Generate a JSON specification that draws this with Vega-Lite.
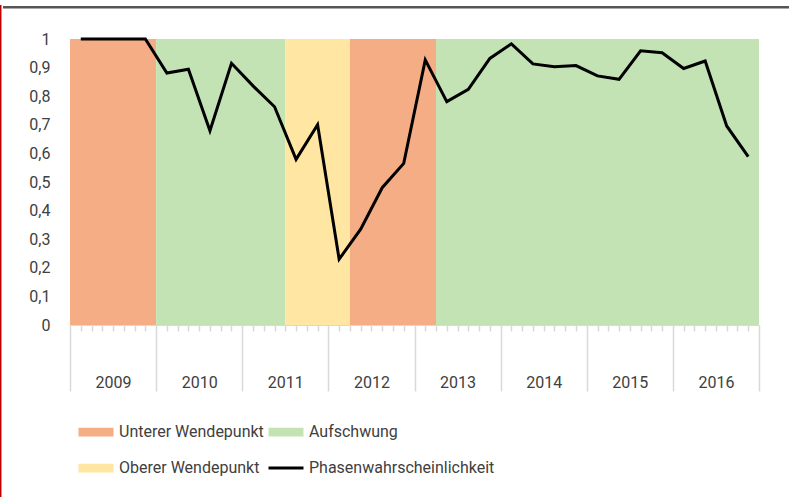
{
  "$schema": "https://vega.github.io/schema/vega-lite/v6.json",
  "width": 689,
  "height": 286,
  "autosize": "none",
  "padding": {"left": 70, "top": 39, "right": 32, "bottom": 172},
  "background": "white",
  "config": {
    "view": {"stroke": null},
    "font": "Roboto, sans-serif",
    "axis": {"labelOverlap": false}
  },
  "datasets": {
    "bands": [
      {"start": 2009, "end": 2010, "phase": "Unterer Wendepunkt"},
      {"start": 2010, "end": 2011.5, "phase": "Aufschwung"},
      {"start": 2011.5, "end": 2012.25, "phase": "Oberer Wendepunkt"},
      {"start": 2012.25, "end": 2013.25, "phase": "Unterer Wendepunkt"},
      {"start": 2013.25, "end": 2017, "phase": "Aufschwung"}
    ],
    "prob": [
      {"t": 2009.125, "p": 1.0},
      {"t": 2009.375, "p": 1.0},
      {"t": 2009.625, "p": 1.0},
      {"t": 2009.875, "p": 1.0},
      {"t": 2010.125, "p": 0.881},
      {"t": 2010.375, "p": 0.894},
      {"t": 2010.625, "p": 0.679},
      {"t": 2010.875, "p": 0.915},
      {"t": 2011.125, "p": 0.836},
      {"t": 2011.375, "p": 0.763},
      {"t": 2011.625, "p": 0.579},
      {"t": 2011.875, "p": 0.700},
      {"t": 2012.125, "p": 0.230},
      {"t": 2012.375, "p": 0.335},
      {"t": 2012.625, "p": 0.480},
      {"t": 2012.875, "p": 0.565},
      {"t": 2013.125, "p": 0.927},
      {"t": 2013.375, "p": 0.781},
      {"t": 2013.625, "p": 0.824},
      {"t": 2013.875, "p": 0.932},
      {"t": 2014.125, "p": 0.983},
      {"t": 2014.375, "p": 0.913},
      {"t": 2014.625, "p": 0.903},
      {"t": 2014.875, "p": 0.907},
      {"t": 2015.125, "p": 0.871},
      {"t": 2015.375, "p": 0.859},
      {"t": 2015.625, "p": 0.959},
      {"t": 2015.875, "p": 0.952},
      {"t": 2016.125, "p": 0.897},
      {"t": 2016.375, "p": 0.923},
      {"t": 2016.625, "p": 0.696},
      {"t": 2016.875, "p": 0.589}
    ]
  },
  "layer": [
    {
      "data": {"name": "bands"},
      "mark": {"type": "rect"},
      "encoding": {
        "x": {
          "field": "start",
          "type": "quantitative",
          "scale": {"domain": [2009, 2017], "nice": false, "zero": false},
          "axis": {
            "title": null,
            "grid": false,
            "domain": true,
            "domainColor": "#d9d9d9",
            "tickCount": 80,
            "values": [2009, 2009.125, 2009.25, 2009.375, 2009.5, 2009.625, 2009.75, 2009.875,
                       2010, 2010.125, 2010.25, 2010.375, 2010.5, 2010.625, 2010.75, 2010.875,
                       2011, 2011.125, 2011.25, 2011.375, 2011.5, 2011.625, 2011.75, 2011.875,
                       2012, 2012.125, 2012.25, 2012.375, 2012.5, 2012.625, 2012.75, 2012.875,
                       2013, 2013.125, 2013.25, 2013.375, 2013.5, 2013.625, 2013.75, 2013.875,
                       2014, 2014.125, 2014.25, 2014.375, 2014.5, 2014.625, 2014.75, 2014.875,
                       2015, 2015.125, 2015.25, 2015.375, 2015.5, 2015.625, 2015.75, 2015.875,
                       2016, 2016.125, 2016.25, 2016.375, 2016.5, 2016.625, 2016.75, 2016.875, 2017],
            "tickColor": "#d9d9d9",
            "tickWidth": 1.5,
            "tickSize": {"condition": {"test": "datum.value % 1 == 0", "value": 66}, "value": 6},
            "labelExpr": "datum.value % 1 == 0.5 ? toString(floor(datum.value)) : ''",
            "labelFontSize": 16,
            "labelColor": "#404040",
            "labelPadding": 43,
            "labelFlush": false,
            "labelOverlap": false,
            "labelBound": false
          }
        },
        "x2": {"field": "end"},
        "y": {
          "datum": 0,
          "type": "quantitative",
          "scale": {"domain": [0, 1], "nice": false},
          "axis": {
            "title": null,
            "grid": false,
            "domain": false,
            "ticks": false,
            "tickCount": 20,
            "values": [0, 0.1, 0.2, 0.3, 0.4, 0.5, 0.6, 0.7, 0.8, 0.9, 1],
            "labelExpr": "replace(format(datum.value, '.1~f'), '.', ',')",
            "labelFontSize": 16,
            "labelColor": "#404040",
            "labelPadding": 20,
            "labelOverlap": false,
            "labelFlush": false,
            "labelBound": false
          }
        },
        "y2": {"datum": 1},
        "color": {
          "field": "phase",
          "type": "nominal",
          "scale": {
            "domain": ["Unterer Wendepunkt", "Aufschwung", "Oberer Wendepunkt", "Phasenwahrscheinlichkeit"],
            "range": ["#f5ad85", "#c4e3b5", "#ffe6a2", "#000000"]
          },
          "legend": {
            "title": null,
            "orient": "none",
            "direction": "horizontal",
            "legendX": 18,
            "legendY": 385,
            "columns": 2,
            "columnPadding": -2,
            "rowPadding": 20,
            "symbolSize": 1225,
            "labelFontSize": 16,
            "labelColor": "#404040",
            "labelOffset": 15,
            "labelLimit": 300,
            "encode": {
              "symbols": {
                "update": {
                  "shape": {"signal": "datum.value === 'Phasenwahrscheinlichkeit' ? 'M-1,0H1' : 'M-1,-0.25H1V0.25H-1Z'"},
                  "fill": {"signal": "datum.value === 'Phasenwahrscheinlichkeit' ? 'transparent' : scale('color', datum.value)"},
                  "stroke": {"signal": "datum.value === 'Phasenwahrscheinlichkeit' ? '#000000' : 'transparent'"},
                  "strokeWidth": {"signal": "datum.value === 'Phasenwahrscheinlichkeit' ? 3 : 0"},
                  "opacity": {"value": 1},
                  "fillOpacity": {"value": 1}
                }
              }
            }
          }
        }
      }
    },
    {
      "data": {"name": "prob"},
      "mark": {"type": "line", "strokeWidth": 3, "strokeJoin": "miter"},
      "encoding": {
        "x": {"field": "t", "type": "quantitative"},
        "y": {"field": "p", "type": "quantitative"},
        "color": {"datum": "Phasenwahrscheinlichkeit"}
      }
    },
    {
      "data": {"values": [{}]},
      "mark": {"type": "rule", "color": "#555555", "strokeWidth": 2.5},
      "encoding": {
        "x": {"datum": 2008.222, "type": "quantitative"},
        "x2": {"datum": 2017.348},
        "y": {"datum": 1.1112, "type": "quantitative"}
      }
    },
    {
      "data": {"values": [{}]},
      "mark": {"type": "rule", "color": "#c00000", "strokeWidth": 1.6},
      "encoding": {
        "x": {"datum": 2008.195, "type": "quantitative"},
        "y": {"datum": 1.119, "type": "quantitative"},
        "y2": {"datum": -0.601}
      }
    }
  ]
}
